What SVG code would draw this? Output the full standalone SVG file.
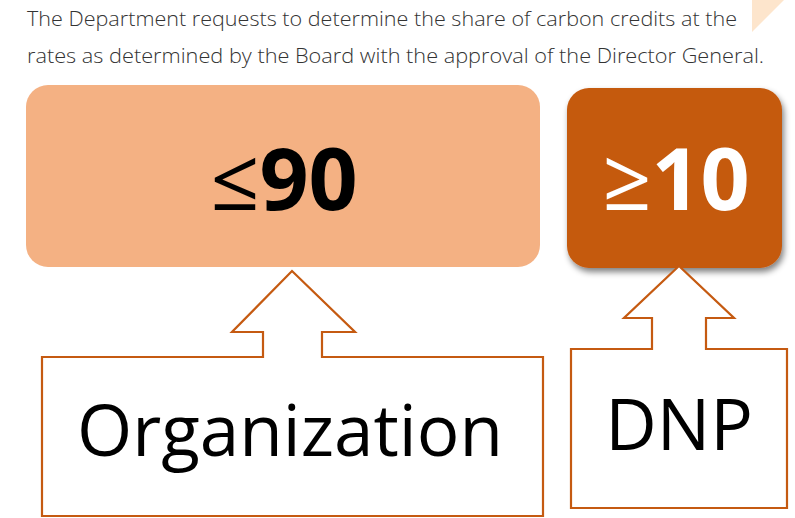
<svg xmlns="http://www.w3.org/2000/svg" width="795" height="518" viewBox="0 0 795 518">
  <style>
    .intro { font-family: "Open Sans", "DejaVu Sans", sans-serif; font-weight: 300; font-size: 21px; fill: #333333; }
    .big { font-family: "Open Sans", "Liberation Sans", sans-serif; font-weight: bold; font-size: 86px; text-anchor: middle; }
    .sym { font-weight: normal; }
    .label { font-family: "Open Sans", "Liberation Sans", sans-serif; font-size: 71px; fill: #000; text-anchor: middle; }
    .callout { fill: #FFFFFF; stroke: #C55A11; stroke-width: 2.2; stroke-linejoin: miter; }
  </style>
  <defs>
    <filter id="shadow" x="-10%" y="-10%" width="125%" height="130%">
      <feGaussianBlur in="SourceAlpha" stdDeviation="3"/>
      <feOffset dx="2" dy="4" result="b"/>
      <feComponentTransfer><feFuncA type="linear" slope="0.5"/></feComponentTransfer>
      <feMerge><feMergeNode/><feMergeNode in="SourceGraphic"/></feMerge>
    </filter>
  </defs>

  <rect width="795" height="518" fill="#FFFFFF"/>

  <!-- corner accent -->
  <polygon points="752,0 784,0 752,32" fill="#FDE5CC"/>

  <!-- heading text -->
  <g id="intro">
    <text class="intro" x="27" y="26" textLength="710" lengthAdjust="spacingAndGlyphs">The Department requests to determine the share of carbon credits at the</text>
    <text class="intro" x="27" y="63" textLength="737" lengthAdjust="spacingAndGlyphs">rates as determined by the Board with the approval of the Director General.</text>
  </g>

  <!-- share boxes -->
  <g id="share-organization">
    <rect x="26" y="85" width="514" height="182" rx="22" fill="#F4B183"/>
    <text class="big" x="284" y="210" fill="#000000"><tspan class="sym">≤</tspan>90</text>
  </g>
  <g id="share-dnp">
    <rect x="567" y="88" width="215" height="180" rx="22" fill="#C55A11" filter="url(#shadow)"/>
    <text class="big" x="676" y="210" fill="#FFFFFF"><tspan class="sym">≥</tspan>10</text>
  </g>

  <!-- callouts pointing up to the boxes -->
  <g id="connectors">
    <g id="organization">
      <path class="callout" d="M42,357 H263 V332 H232 L292,271 L355,332 H322 V357 H543 V516 H42 Z"/>
      <text class="label" x="290" y="456">Organization</text>
    </g>
    <g id="dnp">
      <path class="callout" d="M571,349 H652 V318 H624 L679,266 L734,318 H706 V349 H787 V508 H571 Z"/>
      <text class="label" x="679" y="450">DNP</text>
    </g>
  </g>
</svg>
